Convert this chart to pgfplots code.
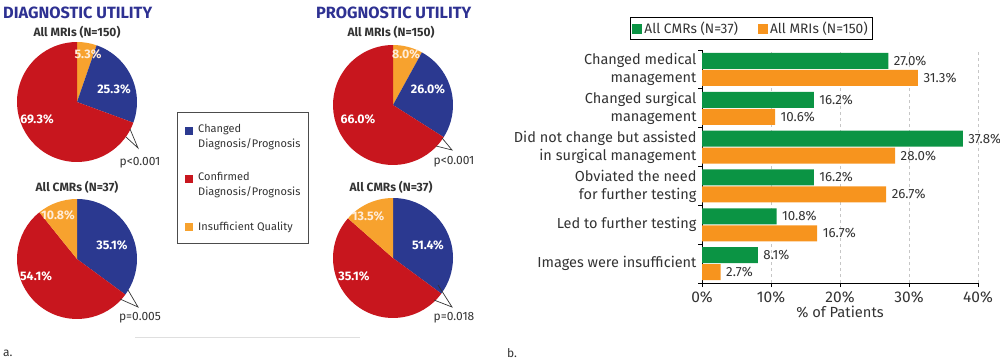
\documentclass[border=0pt]{standalone}
\usepackage{fontspec}
\setmainfont{Fira Sans}
\usepackage{pgfplots}
\pgfplotsset{compat=1.18}
\usepackage{pgfplotstable}

\definecolor{pblue}{HTML}{2B3990}
\definecolor{pred}{HTML}{C8161E}
\definecolor{porange}{HTML}{F7A22E}
\definecolor{bgreen}{HTML}{0B9444}
\definecolor{borange}{HTML}{F7941E}
\definecolor{tblue}{HTML}{2E3192}
\definecolor{txt}{HTML}{333333}

\pgfplotstableread{
y cmr mri
5 27.0 31.3
4 16.2 10.6
3 37.8 28.0
2 16.2 26.7
1 10.8 16.7
0 8.1 2.7
}\bardata

% pie slice: start percentage, percentage, colour (clockwise from the top)
\newcommand\pieslice[3]{%
  \fill[#3] (axis cs:0,0) -- ++({90-3.6*#1}:60pt)
    arc[start angle={90-3.6*#1}, end angle={90-3.6*(#1+#2)}, radius=60pt] -- cycle;}

\pgfplotsset{pie/.style={anchor=center, width=120pt, height=120pt, scale only axis,
  xmin=-1, xmax=1, ymin=-1, ymax=1, hide axis}}

\begin{document}
\begin{tikzpicture}
\useasboundingbox (0,0) rectangle (1000pt,-361pt);

% ---------- panel a ----------
\node[anchor=west, inner sep=0, text=tblue, font=\bfseries\fontsize{16.3}{19}\selectfont] at (3pt,-13pt) {DIAGNOSTIC UTILITY};
\node[anchor=west, inner sep=0, text=tblue, font=\bfseries\fontsize{16.3}{19}\selectfont] at (316pt,-13pt) {PROGNOSTIC UTILITY};

\tikzset{ptitle/.style={inner sep=0, text=txt, font=\bfseries\fontsize{12}{14}\selectfont},
         plab/.style={inner sep=0, text=white, font=\bfseries\fontsize{12.4}{14}\selectfont},
         pval/.style={inner sep=0, text=txt, font=\fontsize{12}{14}\selectfont}}

\node[ptitle] at (77pt,-32pt) {All MRIs (N=150)};
\node[ptitle] at (77pt,-187pt) {All CMRs (N=37)};
\node[ptitle] at (391pt,-32pt) {All MRIs (N=150)};
\node[ptitle] at (391pt,-187pt) {All CMRs (N=37)};

% Diagnostic, all MRIs
\begin{axis}[pie, at={(77pt,-102pt)}]
  \pieslice{0}{5.3}{porange}
  \pieslice{5.3}{25.3}{pblue}
  \pieslice{30.6}{69.4}{pred}
\end{axis}
% Diagnostic, all CMRs
\begin{axis}[pie, at={(77pt,-259pt)}]
  \pieslice{0}{35.1}{pblue}
  \pieslice{35.1}{54.1}{pred}
  \pieslice{89.2}{10.8}{porange}
\end{axis}
% Prognostic, all MRIs
\begin{axis}[pie, at={(393pt,-105pt)}]
  \pieslice{0}{8.0}{porange}
  \pieslice{8.0}{26.0}{pblue}
  \pieslice{34.0}{66.0}{pred}
\end{axis}
% Prognostic, all CMRs (slices as drawn in the original figure)
\begin{axis}[pie, at={(393pt,-258pt)}]
  \pieslice{0}{35.1}{pblue}
  \pieslice{35.1}{51.4}{pred}
  \pieslice{86.5}{13.5}{porange}
\end{axis}

\node[plab, text=orange!15!white] at (88pt,-54pt) {5.3\%};
\node[plab] at (114pt,-89pt) {25.3\%};
\node[plab] at (37pt,-119pt) {69.3\%};
\node[plab, text=orange!15!white] at (58pt,-215pt) {10.8\%};
\node[plab] at (112pt,-245pt) {35.1\%};
\node[plab] at (36pt,-276pt) {54.1\%};
\node[plab, text=orange!15!white] at (406pt,-54pt) {8.0\%};
\node[plab] at (428pt,-89pt) {26.0\%};
\node[plab] at (358pt,-119pt) {66.0\%};
\node[plab, text=orange!15!white] at (368pt,-216pt) {13.5\%};
\node[plab] at (428pt,-245pt) {51.4\%};
\node[plab] at (354pt,-276pt) {35.1\%};

\draw[txt, line width=0.7pt] (130pt,-129pt) -- (138pt,-148pt) -- (126pt,-137pt);
\node[pval] at (140pt,-163pt) {p<0.001};
\draw[txt, line width=0.7pt] (128pt,-290pt) -- (138pt,-307pt) -- (120pt,-299pt);
\node[pval] at (140pt,-318pt) {p=0.005};
\draw[txt, line width=0.7pt] (442pt,-138pt) -- (452pt,-150pt) -- (436pt,-146pt);
\node[pval] at (454pt,-162pt) {p<0.001};
\draw[txt, line width=0.7pt] (438pt,-285pt) -- (452pt,-307pt) -- (434pt,-300pt);
\node[pval] at (454pt,-318pt) {p=0.018};

% legend box of panel a
\draw[gray!60!black, line width=0.9pt] (177pt,-112pt) rectangle (308pt,-243pt);
\tikzset{lt/.style={anchor=west, inner sep=0, text=txt, font=\fontsize{11}{15}\selectfont, align=left}}
\fill[pblue] (185pt,-127pt) rectangle (193pt,-135pt);
\node[lt, anchor=north west] at (198pt,-124pt) {Changed\\Diagnosis/Prognosis};
\fill[pred] (185pt,-175pt) rectangle (193pt,-183pt);
\node[lt, anchor=north west] at (198pt,-172pt) {Confirmed\\Diagnosis/Prognosis};
\fill[porange] (185pt,-223pt) rectangle (193pt,-231pt);
\node[lt] at (198pt,-227pt) {Insufficient Quality};

\draw[gray!25, line width=0.8pt] (135pt,-337pt) -- (360pt,-337pt);
\node[anchor=west, inner sep=0, text=txt, font=\fontsize{12}{15}\selectfont] at (3pt,-353pt) {a.};
\node[anchor=west, inner sep=0, text=txt, font=\fontsize{12}{15}\selectfont] at (507pt,-353pt) {b.};

% ---------- panel b ----------
\begin{axis}[
  at={(702pt,-283pt)}, anchor=south west,
  width=276pt, height=233pt, scale only axis,
  xbar, bar width=16pt,
  xmin=0, xmax=40, ymin=-0.5, ymax=5.5,
  axis x line*=bottom, axis y line*=left,
  axis line style={-, black, line width=0.9pt},
  /pgf/number format/assume math mode=true,
  xtick={0,10,20,30,40},
  xticklabel={\pgfmathprintnumber{\tick}\%},
  xmajorgrids, grid style={dashed, gray!45, line width=0.6pt},
  tick align=outside, major tick length=4pt, minor tick length=5pt,
  tick style={black, line width=0.9pt},
  ytick={-0.5,0.5,...,5.5}, yticklabels={},
  extra y ticks={0,1,2,3,4,5},
  extra y tick labels={Images were insufficient, Led to further testing,
     {Obviated the need\\for further testing}, {Did not change but assisted\\in surgical management},
     {Changed surgical\\management}, {Changed medical\\management}},
  extra y tick style={major tick length=0pt, grid=none},
  yticklabel style={align=right, font=\fontsize{14.5}{18}\selectfont, text=txt, xshift=-2pt},
  xticklabel style={font=\fontsize{15.5}{18}\selectfont, text=txt, yshift=-1pt},
  xlabel={\% of Patients},
  xlabel style={font=\fontsize{14.7}{17}\selectfont, text=txt, yshift=4pt},
  point meta=x,
  nodes near coords={\pgfmathprintnumber[fixed,fixed zerofill,precision=1]{\pgfplotspointmeta}\%},
  nodes near coords align={horizontal},
  every node near coord/.append style={font=\fontsize{13.3}{15}\selectfont, text=txt, xshift=2pt},
  legend style={at={(0.178,1.092)}, anchor=center, legend columns=2, draw=black, line width=0.9pt,
     font=\fontsize{13.7}{16}\selectfont, text=txt, inner sep=2.5pt,
     /tikz/every even column/.append style={column sep=18pt}},
  legend image code/.code={\fill[#1] (0pt,-5pt) rectangle (10pt,5pt);},
]
\addplot[fill=bgreen, draw=none, bar shift=8.5pt] table[x=cmr, y=y] {\bardata};
\addlegendentry{All CMRs (N=37)}
\addplot[fill=borange, draw=none, bar shift=-8.5pt] table[x=mri, y=y] {\bardata};
\addlegendentry{All MRIs (N=150)}
\end{axis}
\end{tikzpicture}
\end{document}
